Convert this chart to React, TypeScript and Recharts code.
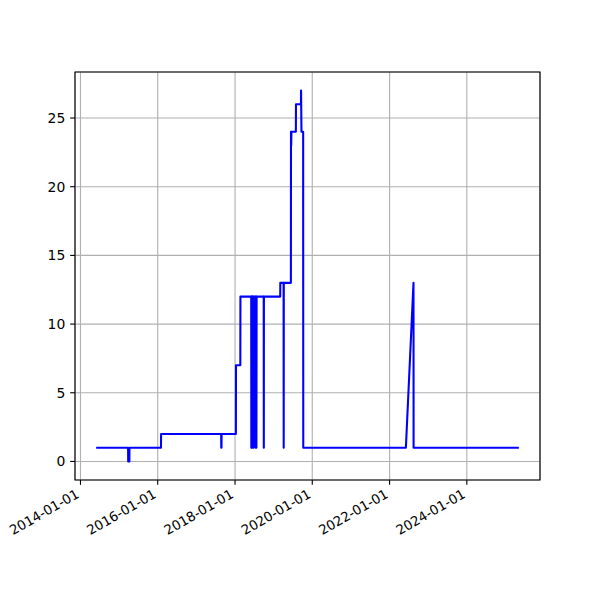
import React from 'react';
import { LineChart, Line, XAxis, YAxis, CartesianGrid, ReferenceArea } from 'recharts';

const dates: string[] = [
  '2014-05-29', '2015-03-27', '2015-03-28', '2015-04-08', '2015-04-09',
  '2016-02-01', '2016-02-02', '2017-08-23', '2017-08-24', '2017-08-26', '2017-08-27',
  '2018-01-09', '2018-01-10', '2018-02-20', '2018-02-21',
  '2018-06-03', '2018-06-04', '2018-06-06', '2018-06-08', '2018-06-10', '2018-06-12',
  '2018-06-14', '2018-06-16', '2018-06-18', '2018-06-20', '2018-06-22', '2018-06-24',
  '2018-06-26', '2018-06-27',
  '2018-07-13', '2018-07-14', '2018-07-16', '2018-07-18', '2018-07-20', '2018-07-22',
  '2018-07-24', '2018-07-25',
  '2018-09-29', '2018-09-30', '2018-10-01',
  '2019-03-04', '2019-03-05', '2019-04-05', '2019-04-06', '2019-04-07',
  '2019-06-13', '2019-06-14', '2019-06-16', '2019-06-18',
  '2019-07-30', '2019-07-31', '2019-09-16', '2019-09-17', '2019-09-21',
  '2019-10-07', '2019-10-08',
  '2022-06-04', '2022-08-15', '2022-08-16', '2025-05-07',
];

const values: number[] = [
  1, 1, 0, 0, 1,
  1, 2, 2, 1, 1, 2,
  2, 7, 7, 12,
  12, 1, 12, 1, 12, 1,
  12, 1, 12, 1, 12, 1,
  12, 12,
  12, 1, 12, 1, 12, 1,
  12, 12,
  12, 1, 12,
  12, 13, 13, 1, 13,
  13, 24, 23, 24,
  24, 26, 26, 27, 24,
  24, 1,
  1, 13, 1, 1,
];

const xTickLabels: string[] = ['2014-01-01', '2016-01-01', '2018-01-01', '2020-01-01', '2022-01-01', '2024-01-01'];
const yTicks: number[] = [0, 5, 10, 15, 20, 25];

const toTime = (s: string) => new Date(s + 'T00:00:00Z').getTime();

const data = dates.map((d, i) => ({ t: toTime(d), v: values[i] }));

const tMin = Math.min(...data.map((d) => d.t));
const tMax = Math.max(...data.map((d) => d.t));
const tRange = tMax - tMin;
const xDomain: [number, number] = [tMin - 0.05 * tRange, tMax + 0.05 * tRange];
const vMin = Math.min(...values);
const vMax = Math.max(...values);
const vRange = vMax - vMin;
const yDomain: [number, number] = [vMin - 0.05 * vRange, vMax + 0.05 * vRange];

const xTicks = xTickLabels.map(toTime);

const FONT = 'DejaVu Sans';
const FS = 13.9;
const XFS = 13.3;
const PT = 100 / 72;

const XTick = (props: any) => {
  const { x, y, payload } = props;
  const label = new Date(payload.value).toISOString().slice(0, 10);
  const px = x - 0.5;
  const py = y + 7;
  return (
    <text
      x={px}
      y={py}
      transform={`rotate(-30, ${px}, ${py})`}
      textAnchor="end"
      fontSize={XFS}
      fontFamily={FONT}
      fill="#000"
    >
      {label}
    </text>
  );
};

export default function App() {
  return (
    <div style={{ position: 'absolute', left: 0, top: 0, width: 600, height: 600, background: '#fff' }}>
      <LineChart
        width={600}
        height={600}
        data={data}
        margin={{ top: 72, right: 60, bottom: 50, left: 15 }}
      >
        <CartesianGrid stroke="#b0b0b0" strokeWidth={0.8 * PT} />
        <XAxis
          dataKey="t"
          type="number"
          domain={xDomain}
          allowDataOverflow
          ticks={xTicks}
          interval={0}
          height={70}
          axisLine={false}
          tickLine={{ stroke: '#000', strokeWidth: 0.8 * PT }}
          tickSize={3.5 * PT}
          tickMargin={3.5 * PT}
          tick={<XTick />}
        />
        <YAxis
          type="number"
          domain={yDomain}
          allowDataOverflow
          ticks={yTicks}
          interval={0}
          width={60}
          axisLine={false}
          tickLine={{ stroke: '#000', strokeWidth: 0.8 * PT }}
          tickSize={3.5 * PT}
          tickMargin={3.5 * PT}
          tick={{ fontSize: FS, fontFamily: FONT, fill: '#000' }}
        />
        <Line
          type="linear"
          dataKey="v"
          stroke="#0000ff"
          strokeWidth={1.5 * PT}
          strokeLinejoin="round"
          dot={false}
          activeDot={false}
          isAnimationActive={false}
        />
        <ReferenceArea
          x1={xDomain[0]}
          x2={xDomain[1]}
          y1={yDomain[0]}
          y2={yDomain[1]}
          fill="none"
          fillOpacity={0}
          stroke="#000"
          strokeWidth={0.8 * PT}
          ifOverflow="visible"
        />
      </LineChart>
    </div>
  );
}
